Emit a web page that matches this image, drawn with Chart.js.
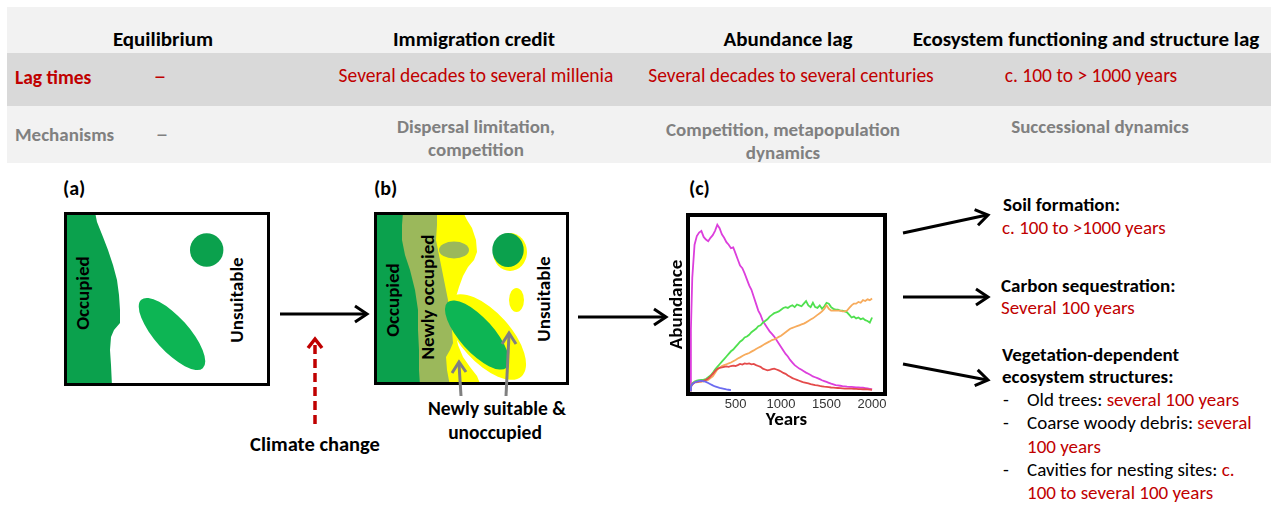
<!DOCTYPE html>
<html>
<head>
<meta charset="utf-8">
<script src="https://cdn.jsdelivr.net/npm/chart.js@4.4.1/dist/chart.umd.min.js"></script>
<style>
  html,body{margin:0;padding:0;background:#fff;}
  body{width:1271px;height:506px;position:relative;overflow:hidden;font-family:Carlito,Calibri,Lato,"Open Sans",sans-serif;}
  .band{position:absolute;}
  .t{position:absolute;white-space:nowrap;transform:translate(-50%,-50%);line-height:1;}
  .l{position:absolute;white-space:nowrap;line-height:1;}
  .hd{font-weight:bold;font-size:21px;color:#000;}
  .red{color:#c00000;}
  .gray{color:#808080;}
  .b{font-weight:bold;}
  .f17{font-size:19.5px;}
  .f19{font-size:19px;}
  .f16{font-size:19px;}
  .dash{font-size:25px;}
  svg{position:absolute;left:0;top:0;}
  #cwrap{position:absolute;left:656px;top:205px;width:240px;height:230px;}
</style>
</head>
<body>
<!-- table bands -->
<div class="band" style="left:7px;top:7px;width:1264px;height:46px;background:#f2f2f2"></div>
<div class="band" style="left:7px;top:53px;width:1264px;height:53px;background:#d9d9d9"></div>
<div class="band" style="left:7px;top:106px;width:1264px;height:57px;background:#f2f2f2"></div>

<div class="t hd" style="left:163px;top:39px">Equilibrium</div>
<div class="t hd" style="left:474px;top:39px">Immigration credit</div>
<div class="t hd" style="left:788px;top:39px">Abundance lag</div>
<div class="t hd" style="left:1086px;top:39px">Ecosystem functioning and structure lag</div>

<div class="l b red f17" style="left:15px;top:68px">Lag times</div>
<div class="t red dash" style="left:160px;top:75px">–</div>
<div class="t red f17" style="left:476px;top:76px">Several decades to several millenia</div>
<div class="t red f17" style="left:791px;top:76px">Several decades to several centuries</div>
<div class="t red f17" style="left:1091px;top:76px">c. 100 to &gt; 1000 years</div>

<div class="l b gray f19" style="left:15px;top:125px">Mechanisms</div>
<div class="t gray dash" style="left:162px;top:133px">–</div>
<div class="t b gray f19" style="left:476px;top:126px">Dispersal limitation,</div>
<div class="t b gray f19" style="left:476px;top:149px">competition</div>
<div class="t b gray f19" style="left:783px;top:129px">Competition, metapopulation</div>
<div class="t b gray f19" style="left:783px;top:152px">dynamics</div>
<div class="t b gray f19" style="left:1100px;top:126px">Successional dynamics</div>

<svg width="1271" height="506" viewBox="0 0 1271 506">
  <defs>
    <clipPath id="clipB"><rect x="376" y="214" width="191" height="169"/></clipPath>
    <clipPath id="clipA"><rect x="66" y="214" width="202" height="170"/></clipPath>
  </defs>
  <g font-family="Carlito,Calibri,Lato,'Open Sans',sans-serif" font-weight="bold" font-size="20" fill="#000">
    <text x="63" y="195">(a)</text>
    <text x="374" y="195">(b)</text>
    <text x="689" y="195">(c)</text>
  </g>
  <!-- panel a -->
  <g clip-path="url(#clipA)">
    <polygon fill="#0ba14d" points="64,212 95,212 97,222 103,237 108,250 113,265 117,280 119,295 120,310 120,323 114,330 111,337 110,350 111,365 112,386 64,386"/>
    <circle cx="206.7" cy="250" r="16.7" fill="#0ba14d"/>
    <ellipse cx="172" cy="334" rx="46" ry="17" fill="#0db554" transform="rotate(48 172 334)"/>
  </g>
  <rect x="65.5" y="213.5" width="203" height="171" fill="none" stroke="#000" stroke-width="3"/>
  <g font-family="Carlito,Calibri,Lato,'Open Sans',sans-serif" font-weight="bold" font-size="19" fill="#000" text-anchor="middle" dominant-baseline="central">
    <text transform="translate(82 293) rotate(-90)">Occupied</text>
    <text transform="translate(236 300) rotate(-90)">Unsuitable</text>
  </g>
  <!-- arrow a -> b -->
  <line x1="280" y1="314" x2="366" y2="314" stroke="#000" stroke-width="3"/>
  <polyline points="355,306 367,314 355,322" fill="none" stroke="#000" stroke-width="3"/>
  <!-- climate change arrow -->
  <line x1="315" y1="424" x2="315" y2="341" stroke="#c00000" stroke-width="3.5" stroke-dasharray="9,5"/>
  <polyline points="308,348 315,339 322,348" fill="none" stroke="#c00000" stroke-width="3.5"/>
  <text x="315" y="451" text-anchor="middle" font-family="Carlito,Calibri,Lato,'Open Sans',sans-serif" font-weight="bold" font-size="20.5">Climate change</text>

  <!-- panel b -->
  <g clip-path="url(#clipB)">
    <polygon fill="#ffff00" points="374,212 463,212 467,220 472,228 476,240 477,252 474,260 468,267 463,276 459,287 456,297 455,310 455,330 458,345 463,357 470,367 477,376 481,386 374,386"/>
    <ellipse cx="486" cy="337" rx="53" ry="25" fill="#ffff00" transform="rotate(48 486 337)"/>
    <ellipse cx="510" cy="252" rx="17" ry="19" fill="#ffff00"/>
    <ellipse cx="516.5" cy="300" rx="7.5" ry="12" fill="#ffff00"/>
    <polygon fill="#9bb85b" points="374,212 437,212 437,225 436,240 439,255 442,270 445,285 448,300 450,315 452,330 453,343 450,350 446,357 447,370 450,386 374,386"/>
    <polygon fill="#0ba14d" points="374,212 403,212 402,225 402,240 405,255 410,270 415,290 418,310 418,330 419,350 419,370 420,386 374,386"/>
    <ellipse cx="454" cy="250" rx="15" ry="8.5" fill="#9bb85b"/>
    <ellipse cx="508" cy="250" rx="15.7" ry="17" fill="#0ba14d"/>
    <ellipse cx="477" cy="335" rx="44" ry="17" fill="#0db554" transform="rotate(48 477 335)"/>
  </g>
  <rect x="375.5" y="213.5" width="192" height="170" fill="none" stroke="#000" stroke-width="3"/>
  <g font-family="Carlito,Calibri,Lato,'Open Sans',sans-serif" font-weight="bold" font-size="19" fill="#000" text-anchor="middle" dominant-baseline="central">
    <text transform="translate(392 300) rotate(-90)">Occupied</text>
    <text transform="translate(427 297) rotate(-90)">Newly occupied</text>
    <text transform="translate(543 299) rotate(-90)">Unsuitable</text>
  </g>
  <g font-family="Carlito,Calibri,Lato,'Open Sans',sans-serif" font-weight="bold" font-size="19.5" fill="#000" text-anchor="middle" dominant-baseline="central">
    <text x="497" y="408">Newly suitable &amp;</text>
    <text x="495" y="432">unoccupied</text>
  </g>
  <!-- gray arrows -->
  <line x1="461" y1="396" x2="459" y2="364" stroke="#808080" stroke-width="3"/>
  <polyline points="452,373 459,362 466,372" fill="none" stroke="#808080" stroke-width="3"/>
  <line x1="506" y1="396" x2="509" y2="335" stroke="#808080" stroke-width="3"/>
  <polyline points="502,344 509,333 516,344" fill="none" stroke="#808080" stroke-width="3"/>
  <!-- arrow b -> c -->
  <line x1="578" y1="317" x2="666" y2="317" stroke="#000" stroke-width="3"/>
  <polyline points="654,309 666,317 654,325" fill="none" stroke="#000" stroke-width="3"/>
  <!-- right arrows -->
  <line x1="903" y1="233" x2="987" y2="215" stroke="#000" stroke-width="3"/>
  <polyline points="974.6,209.7 988,215 978,225.3" fill="none" stroke="#000" stroke-width="3"/>
  <line x1="903" y1="297" x2="987" y2="297" stroke="#000" stroke-width="3"/>
  <polyline points="976,289 988,297 976,305" fill="none" stroke="#000" stroke-width="3"/>
  <line x1="903" y1="364" x2="987" y2="380" stroke="#000" stroke-width="3"/>
  <polyline points="977.7,369.9 988,380 974.7,385.7" fill="none" stroke="#000" stroke-width="3"/>
</svg>

<!-- right texts -->
<div class="l b f16" style="left:1003px;top:195px">Soil formation:</div>
<div class="l red f16" style="left:1002px;top:218px">c. 100 to &gt;1000 years</div>
<div class="l b f16" style="left:1001px;top:276px">Carbon sequestration:</div>
<div class="l red f16" style="left:1001px;top:298px">Several 100 years</div>
<div class="l b f16" style="left:1002px;top:345px">Vegetation-dependent</div>
<div class="l b f16" style="left:1002px;top:367px">ecosystem structures:</div>
<div class="l f16" style="left:1003px;top:390px">-</div>
<div class="l f16" style="left:1027px;top:390px">Old trees: <span class="red">several 100 years</span></div>
<div class="l f16" style="left:1003px;top:413px">-</div>
<div class="l f16" style="left:1027px;top:413px">Coarse woody debris: <span class="red">several</span></div>
<div class="l red f16" style="left:1027px;top:437px">100 years</div>
<div class="l f16" style="left:1003px;top:460px">-</div>
<div class="l f16" style="left:1027px;top:460px">Cavities for nesting sites: <span class="red">c.</span></div>
<div class="l red f16" style="left:1027px;top:483px">100 to several 100 years</div>

<div id="cwrap"><canvas id="c" width="240" height="230"></canvas></div>

<script>
const years = [0,10,25,50,75,100,125,150,175,200,225,250,275,300,325,350,375,400,425,450,475,500,525,550,575,600,625,650,675,700,725,750,775,800,825,850,875,900,925,950,975,1000,1025,1050,1075,1100,1125,1150,1175,1200,1225,1250,1275,1300,1325,1350,1375,1400,1425,1450,1475,1500,1525,1550,1575,1600,1625,1650,1675,1700,1725,1750,1775,1800,1825,1850,1875,1900,1925,1950,1975,2000];
const xTickValues = [500,1000,1500,2000];
const xTickLabels = ['500','1000','1500','2000'];

const magenta = [0,35,65,84,89,91,92,88.5,87,86,88,89.5,92,95.5,93.5,90,88,85.5,84,82,82.5,79,75.5,72,70.5,67.5,64,60.5,58,54,50,46,43.5,40,38,36,34,32.5,31,29,27,25,23,21,19.5,17.5,16,14.5,13.5,12.5,11.8,11,10.2,9.5,8.8,8,7.5,7,6.4,5.8,5.3,4.8,4.3,3.8,3.4,3,2.8,2.6,2.4,2.3,2.1,2,1.9,1.8,1.7,1.6,1.5,1.5,1.3,1.1,0.8,0.5];
const green = [0,2.5,4,5,5.5,5.8,6,6.2,6.5,7.5,8.5,10,12,13.5,15,16.5,18,19.5,21,22.5,23.5,25,26.5,28,29,30.5,31,32,33.5,34.5,35.5,37,37.5,39,40,41,42.5,43.5,44.5,45,45.5,46.5,47.5,48,47.5,48.5,49,48,49.5,49,48.5,50,51.5,49,48,50.5,48,47.5,49,47,48.5,50.5,50,48,47,46.5,46.5,46,46,45.5,45,43.5,42,42.5,41.5,42,41,41.5,40.5,40,39,42];
const orange = [0,2,3.5,4.5,4.5,5,5,5.2,5.5,6,7,8,10,12,13,14,14.5,15,15.5,16,16.8,17.5,18.3,19,19.8,20.5,21,21.5,22.3,23,23.8,24.5,25.2,26,26.8,27.5,28.2,29,29.4,30,30.8,31.5,32.5,33.5,34.5,35.5,36,36.5,37,37.5,38,38.5,39.2,40,40.8,41.5,42.5,43.5,44.5,45.5,47,49,47,46,46,46,46,46,45.5,45.5,46,47.5,49,50,50,51,50.5,52,51.5,52.5,52,53];
const red = [0,2,3.5,4.5,4.8,5,5.2,5.5,6,6.8,8,9.5,11,12.3,13,13.2,13.5,13.8,13.5,14,14.2,14,14.5,15.2,14.8,15.5,15.2,15.5,15,15.2,14.5,14,13.5,12.5,12,11.5,11.8,12.2,12.5,12,11.5,10.8,10,9.5,8.5,7.8,7,6.5,6,5.5,5,4.5,4.3,4,3.6,3.3,3,2.8,2.5,2.3,2.1,2,1.8,1.6,1.5,1.4,1.3,1.2,1.1,1,1,0.9,0.9,0.8,0.8,0.7,0.7,0.6,0.6,0.5,0.4,0.3];
const blue = [0,2,3.5,4.5,5,5.3,5.5,5.2,4.8,4.2,3.5,2.8,2.2,1.8,1.4,1.1,0.8,0.5,0.3,0.1];

function pts(vals){ return vals.map((v,i)=>({x:years[i], y:v})); }

const boxPlugin = {
  id:'box',
  afterDatasetsDraw(chart){
    const {ctx, chartArea:a} = chart;
    ctx.save();
    ctx.lineWidth = 4;
    ctx.strokeStyle = '#000';
    ctx.strokeRect(a.left-2, a.top-2, a.right-a.left+4, a.bottom-a.top+4);
    ctx.restore();
  }
};

const ds = (label, vals, color) => ({label, data: pts(vals), borderColor: color, borderWidth: 1.8, pointRadius: 0, tension: 0, fill: false});

new Chart(document.getElementById('c'), {
  type: 'line',
  data: {
    datasets: [
      ds('Species 5', blue, '#6b6bf0'),
      ds('Species 4', red, '#e44a4a'),
      ds('Species 3', orange, '#f7ab5c'),
      ds('Species 2', green, '#4fe04f'),
      ds('Species 1', magenta, '#dc3fdc')
    ]
  },
  options: {
    responsive: false,
    animation: false,
    devicePixelRatio: 1,
    layout: {padding: {left: 0, right: 13, top: 12, bottom: 0}},
    plugins: {legend: {display: false}, tooltip: {enabled: false}},
    scales: {
      x: {
        type: 'linear', min: 0, max: 2120,
        afterBuildTicks(scale){ scale.ticks = xTickValues.map(v=>({value:v})); },
        afterFit(scale){ scale.height = 43; },
        ticks: {
          callback: (v)=> xTickLabels[xTickValues.indexOf(v)] ?? '',
          color: '#333', font: {family: 'Arial, "Liberation Sans", sans-serif', size: 13}, padding: 5, maxRotation: 0, autoSkip: false
        },
        grid: {display: false, drawTicks: false},
        border: {display: false},
        title: {display: true, text: 'Years', color: '#000', font: {family: 'Carlito, Calibri, Lato, sans-serif', size: 19, weight: 'bold'}, padding: {top: 0, bottom: 3}}
      },
      y: {
        type: 'linear', min: -1, max: 100,
        afterFit(scale){ scale.width = 34; },
        ticks: {display: false},
        grid: {display: false, drawTicks: false},
        border: {display: false},
        title: {display: true, text: 'Abundance', color: '#000', font: {family: 'Carlito, Calibri, Lato, sans-serif', size: 19, weight: 'bold'}, padding: {top: 10, bottom: 10}}
      }
    }
  },
  plugins: [boxPlugin]
});
</script>
</body>
</html>
